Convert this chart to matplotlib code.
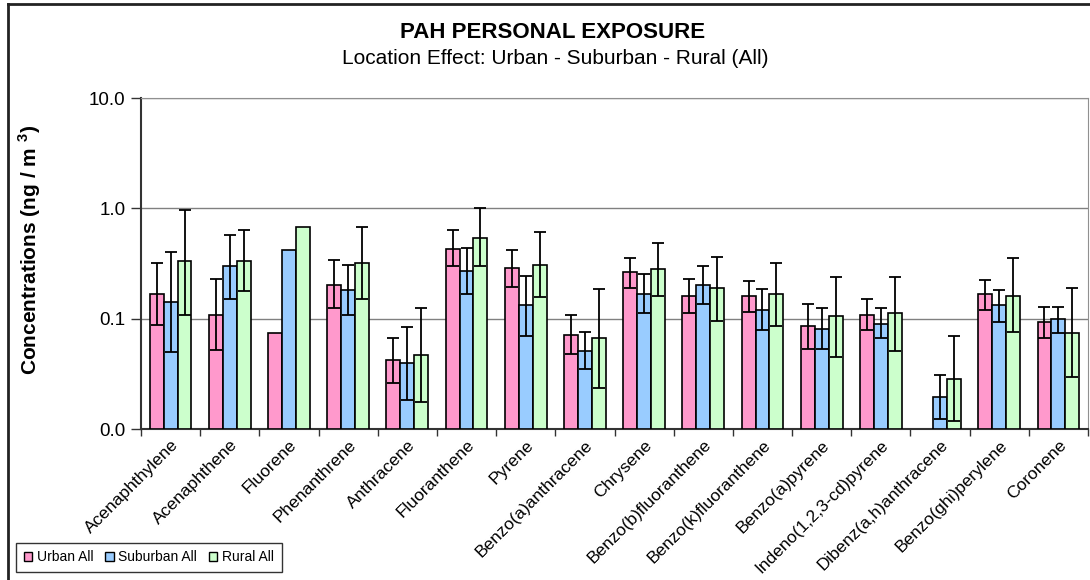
import numpy as np
import matplotlib
matplotlib.use("Agg")
import matplotlib.pyplot as plt
from matplotlib.lines import Line2D
from matplotlib.patches import Patch

plt.rcParams['font.family'] = ['Liberation Sans', 'DejaVu Sans']

compounds = ["Acenaphthylene", "Acenaphthene", "Fluorene", "Phenanthrene", "Anthracene",
             "Fluoranthene", "Pyrene", "Benzo(a)anthracene", "Chrysene", "Benzo(b)fluoranthene",
             "Benzo(k)fluoranthene", "Benzo(a)pyrene", "Indeno(1,2,3-cd)pyrene",
             "Dibenz(a,h)anthracene", "Benzo(ghi)perylene", "Coronene"]
series = ["Urban All", "Suburban All", "Rural All"]
colors = ["#FF99CC", "#99CCFF", "#CCFFCC"]

# mean values (ng/m3)
urban = [0.166, 0.109, 0.0736, 0.202, 0.0421, 0.428, 0.290, 0.071, 0.263, 0.160,
         0.160, 0.0866, 0.109, np.nan, 0.166, 0.0925]
suburban = [0.1415, 0.298, 0.416, 0.183, 0.0396, 0.272, 0.132, 0.0513, 0.166, 0.202,
            0.120, 0.081, 0.0894, 0.0194, 0.132, 0.0985]
rural = [0.331, 0.331, 0.677, 0.319, 0.0468, 0.538, 0.309, 0.0667, 0.280, 0.190,
         0.166, 0.105, 0.112, 0.0286, 0.160, 0.0736]

# error bar ends (lower, upper)
urban_lo = [0.087, 0.0516, np.nan, 0.125, 0.0261, 0.298, 0.195, 0.0481, 0.190, 0.112,
            0.116, 0.053, 0.0783, np.nan, 0.120, 0.0667]
urban_hi = [0.319, 0.230, np.nan, 0.340, 0.0667, 0.632, 0.416, 0.109, 0.352, 0.230,
            0.218, 0.137, 0.151, np.nan, 0.223, 0.128]
suburban_lo = [0.0498, 0.152, np.nan, 0.109, 0.0182, 0.166, 0.0695, 0.0347, 0.112, 0.137,
               0.0783, 0.053, 0.0667, 0.0123, 0.0925, 0.0736]
suburban_hi = [0.402, 0.573, np.nan, 0.309, 0.0839, 0.440, 0.245, 0.0762, 0.254, 0.298,
               0.184, 0.124, 0.124, 0.0306, 0.183, 0.128]
rural_lo = [0.109, 0.179, np.nan, 0.152, 0.0177, 0.298, 0.156, 0.0235, 0.160, 0.095,
            0.0866, 0.0452, 0.0513, 0.0119, 0.0756, 0.0296]
rural_hi = [0.96, 0.632, np.nan, 0.677, 0.125, 1.0, 0.61, 0.184, 0.489, 0.365,
            0.319, 0.238, 0.238, 0.0691, 0.352, 0.19]

values = [urban, suburban, rural]
lows = [urban_lo, suburban_lo, rural_lo]
highs = [urban_hi, suburban_hi, rural_hi]

fig = plt.figure(figsize=(10.9, 5.8), dpi=100)
ax = fig.add_axes([141 / 1090, 151 / 580, 947 / 1090, 331 / 580])

x = np.arange(len(compounds))
w = 0.235
for i in range(3):
    v = np.array(values[i])
    lo = v - np.array(lows[i])
    hi = np.array(highs[i]) - v
    pos = x + (i - 1) * w
    ax.bar(pos, v - 0.01, width=w, bottom=0.01, color=colors[i], edgecolor="black",
           linewidth=1.2, zorder=3)
    ax.errorbar(pos, v, yerr=[lo, hi], fmt="none", ecolor="black", elinewidth=1.3,
                capsize=4, capthick=1.3, zorder=4)

ax.set_yscale("log")
ax.set_ylim(0.01, 10)
ax.set_xlim(-0.5, len(compounds) - 0.5)
ax.set_yticks([0.01, 0.1, 1, 10])
ax.set_yticklabels(["0.0", "0.1", "1.0", "10.0"], fontsize=13.5)
ax.yaxis.set_minor_locator(matplotlib.ticker.NullLocator())
ax.grid(axis="y", which="major", color="#808080", linewidth=1.0, zorder=0)

ax.set_xticks(x)
ax.set_xticklabels(compounds, rotation=45, ha="right", rotation_mode="anchor", fontsize=12.5)
ax.tick_params(axis="x", length=0, pad=6)
ax.set_xticks(np.arange(len(compounds) + 1) - 0.5, minor=True)
ax.tick_params(axis="x", which="minor", length=5, width=1, color="#333333")
ax.tick_params(axis="y", length=7, width=1, color="#333333", pad=4)

for s in ["top", "right"]:
    ax.spines[s].set_color("#909090")
for s in ["left", "bottom"]:
    ax.spines[s].set_color("#333333")
    ax.spines[s].set_linewidth(1.5)

ax.set_ylabel("Concentrations (ng / m $^{\\mathregular{3}}$)", fontsize=15, fontweight="bold")
ax.yaxis.set_label_coords(-0.104, 0.54)

fig.text(553 / 1090, 1 - 32 / 580, "PAH PERSONAL EXPOSURE", ha="center", va="center",
         fontsize=16, fontweight="bold")
fig.text(555 / 1090, 1 - 58 / 580, "Location Effect: Urban - Suburban - Rural (All)",
         ha="center", va="center", fontsize=15)

# outer chart border
fig.add_artist(Line2D([8 / 1090, 1.0], [1 - 4 / 580, 1 - 4 / 580], color="#222222", lw=2,
                      transform=fig.transFigure))
fig.add_artist(Line2D([8 / 1090, 8 / 1090], [0, 1 - 4 / 580], color="#222222", lw=2,
                      transform=fig.transFigure))

handles = [Patch(facecolor=c, edgecolor="black", linewidth=1) for c in colors]
leg = fig.legend(handles, series, loc="lower left", bbox_to_anchor=(16 / 1090, 8 / 580),
                 ncol=3, fontsize=10, frameon=True, fancybox=False, handlelength=0.6,
                 handleheight=0.6, handletextpad=0.35, columnspacing=0.85, borderpad=0.55,
                 borderaxespad=0)
leg.get_frame().set_edgecolor("black")
leg.get_frame().set_linewidth(1)

fig.savefig("out.png", dpi=100)
